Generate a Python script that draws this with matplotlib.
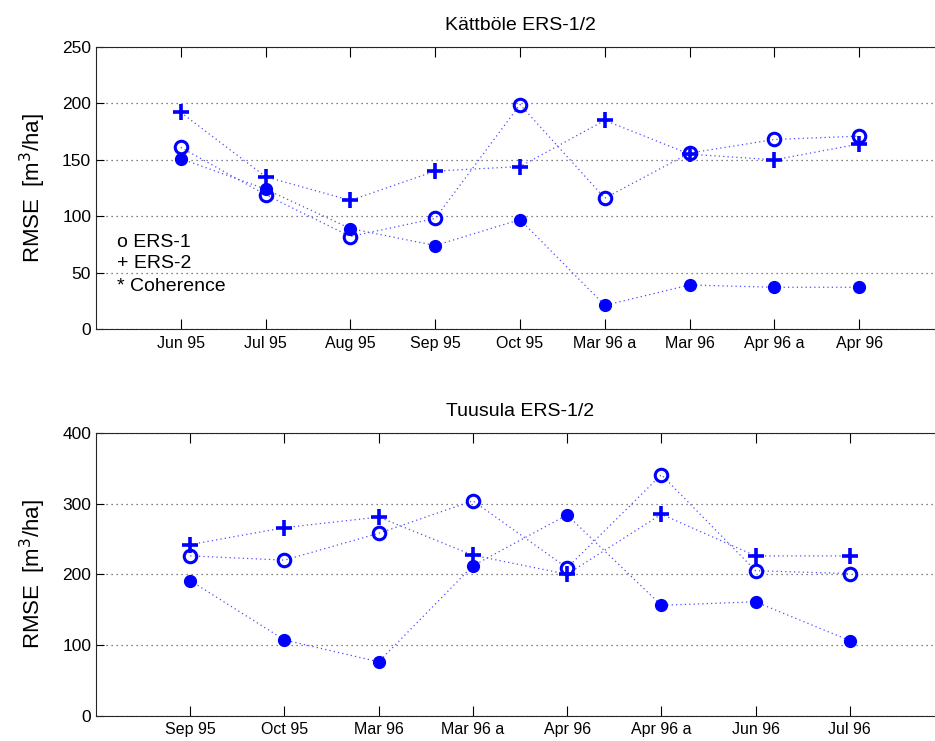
import numpy as np
import matplotlib.pyplot as plt

plt.rcParams['font.family'] = ['Liberation Sans', 'DejaVu Sans']

# Kättböle ERS-1/2
k_dates = ['Jun 95', 'Jul 95', 'Aug 95', 'Sep 95', 'Oct 95',
           'Mar 96 a', 'Mar 96', 'Apr 96 a', 'Apr 96']
k_ers1 = [161, 119, 82, 98, 199, 116, 156, 168, 171]
k_ers2 = [192, 135, 114, 140, 144, 185, 155, 150, 164]
k_coh = [151, 124, 89, 74, 97, 21, 39, 37, 37]

# Tuusula ERS-1/2
t_dates = ['Sep 95', 'Oct 95', 'Mar 96', 'Mar 96 a',
           'Apr 96', 'Apr 96 a', 'Jun 96', 'Jul 96']
t_ers1 = [226, 220, 258, 304, 209, 341, 205, 201]
t_ers2 = [242, 266, 281, 227, 200, 285, 226, 226]
t_coh = [191, 107, 76, 212, 284, 156, 161, 106]


def draw(ax, dates, ers1, ers2, coh, ymax, ystep, title):
    x = np.arange(1, len(dates) + 1)
    line_kw = dict(color=(0.3, 0.3, 1.0), lw=0.9, ls=(0, (1, 2.5)), zorder=2)
    ax.plot(x, ers1, **line_kw)
    ax.plot(x, ers2, **line_kw)
    ax.plot(x, coh, **line_kw)
    ax.plot(x, ers1, ls='none', marker='o', ms=9, mfc='none', mec='blue', mew=2.2, zorder=3)
    ax.plot(x, ers2, ls='none', marker='+', ms=11, mec='blue', mew=2.6, zorder=3)
    ax.plot(x, coh, ls='none', marker='o', ms=8.5, mfc='blue', mec='blue', zorder=3)

    ax.set_xlim(0, len(dates) + 1)
    ax.set_ylim(0, ymax)
    ax.set_xticks(x)
    ax.set_xticklabels(dates, fontsize=11.5)
    ax.set_yticks(np.arange(0, ymax + 1, ystep))
    ax.tick_params(axis='y', labelsize=12.5, direction='in', length=6, right=False)
    ax.tick_params(axis='x', direction='in', length=7, top=True, pad=5)
    ax.yaxis.grid(True, color='0.35', ls=(0, (1, 3)), lw=0.9)
    for s in ax.spines.values():
        s.set_color('0.15')
    ax.spines['right'].set_visible(False)
    ax.set_ylabel('RMSE  [m$^3$/ha]', fontsize=16, labelpad=10)
    ax.set_title(title, fontsize=14, pad=12)


fig = plt.figure(figsize=(9.35, 7.41), dpi=100)
ax1 = fig.add_axes([96 / 935, 1 - 329 / 741, 848 / 935, 282 / 741])
ax2 = fig.add_axes([96 / 935, 1 - 715.5 / 741, 848 / 935, 282.5 / 741])

draw(ax1, k_dates, k_ers1, k_ers2, k_coh, 250, 50, 'Kättböle ERS-1/2')
draw(ax2, t_dates, t_ers1, t_ers2, t_coh, 400, 100, 'Tuusula ERS-1/2')

ax1.text(0.25, 77, 'o ERS-1', fontsize=14, va='center')
ax1.text(0.25, 58, '+ ERS-2', fontsize=14, va='center')
ax1.text(0.25, 38, '* Coherence', fontsize=14, va='center')

fig.savefig('out.png', dpi=100)
